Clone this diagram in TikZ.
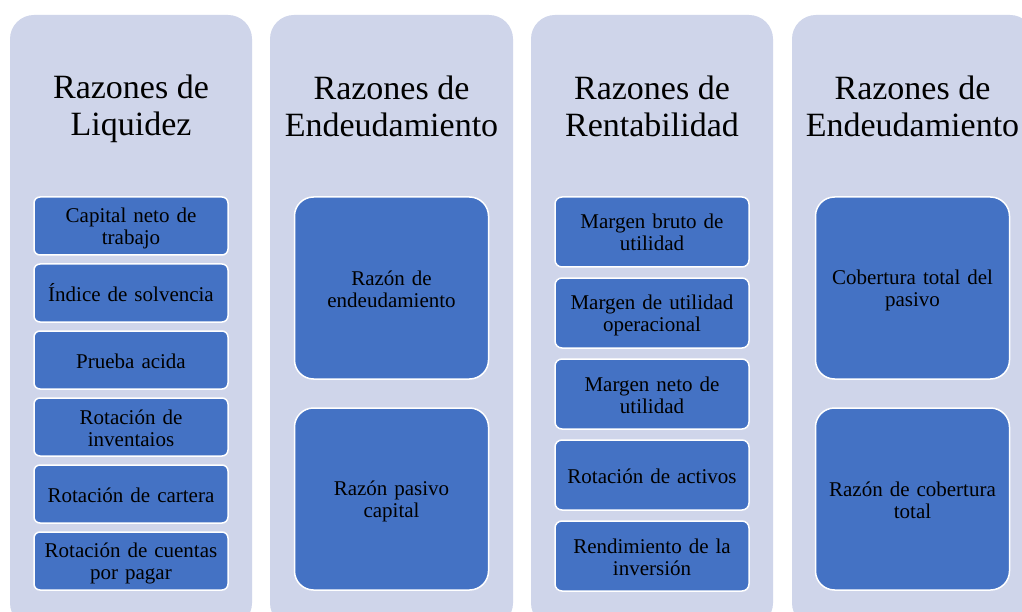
\documentclass[tikz,border=0pt]{standalone}
\usepackage{fontspec}
\setmainfont{Liberation Serif}
\definecolor{panelc}{HTML}{CFD5EA}
\definecolor{boxc}{HTML}{4472C4}
\newcommand\bxtop{\rule{0pt}{19.5pt}}
\newcommand\bxbot{\rule[-3.5pt]{0pt}{3.5pt}}
\newcommand\tttop{\rule{0pt}{32pt}}
\newcommand\ttbot{\rule[-4pt]{0pt}{4pt}}
\tikzset{
  panel/.style={fill=panelc, draw=none, rounded corners=24pt},
  itembox/.style={fill=boxc, draw=white, line width=1.5pt, align=center,
    font=\fontsize{21}{22}\selectfont, inner sep=0pt, minimum width=194pt, text width=190pt},
  smallbox/.style={itembox, minimum height=58pt, rounded corners=6pt},
  midbox/.style={itembox, minimum height=70pt, rounded corners=7pt},
  bigbox/.style={itembox, minimum height=182pt, rounded corners=19pt},
  paneltitle/.style={align=center, font=\fontsize{34}{37}\selectfont, inner sep=0pt}
}
\begin{document}
\begin{tikzpicture}[x=1pt,y=-1pt]
\useasboundingbox (0,0) rectangle (1022,612);
\clip (0,0) rectangle (1022,612);
\fill[white] (0,0) rectangle (1022,612);
% panels
\path[panel] (10,15) rectangle (252,627);
\path[panel] (270,15) rectangle (513,627);
\path[panel] (531,15) rectangle (773,627);
\path[panel] (792,15) rectangle (1034,627);
% titles
\node[paneltitle] (t1) at (131,104.5) {\tttop Razones de\\Liquidez\ttbot};
\node[paneltitle] (t2) at (391.5,104.5) {\tttop Razones de\\Endeudamiento\ttbot};
\node[paneltitle] (t3) at (652,104.5) {\tttop Razones de\\Rentabilidad\ttbot};
\node[paneltitle] (t4) at (912.5,104.5) {\tttop Razones de\\Endeudamiento\ttbot};
% column 1
\node[smallbox] (a1) at (131,226) {\bxtop Capital neto de\\trabajo\bxbot};
\node[smallbox] (a2) at (131,293) {\bxtop Índice de solvencia\bxbot};
\node[smallbox] (a3) at (131,360) {\bxtop Prueba acida\bxbot};
\node[smallbox] (a4) at (131,427) {\bxtop Rotación de\\inventaios\bxbot};
\node[smallbox] (a5) at (131,494) {\bxtop Rotación de cartera\bxbot};
\node[smallbox] (a6) at (131,561) {\bxtop Rotación de cuentas\\por pagar\bxbot};
% column 2
\node[bigbox] (b1) at (391.5,288) {\bxtop Razón de\\endeudamiento\bxbot};
\node[bigbox] (b2) at (391.5,499) {\bxtop Razón pasivo\\capital\bxbot};
% column 3
\node[midbox] (c1) at (652,232) {\bxtop Margen bruto de\\utilidad\bxbot};
\node[midbox] (c2) at (652,313) {\bxtop Margen de utilidad\\operacional\bxbot};
\node[midbox] (c3) at (652,394) {\bxtop Margen neto de\\utilidad\bxbot};
\node[midbox] (c4) at (652,475) {\bxtop Rotación de activos\bxbot};
\node[midbox] (c5) at (652,556) {\bxtop Rendimiento de la\\inversión\bxbot};
% column 4
\node[bigbox] (d1) at (912.5,288) {\bxtop Cobertura total del\\pasivo\bxbot};
\node[bigbox] (d2) at (912.5,499) {\bxtop Razón de cobertura\\total\bxbot};
\end{tikzpicture}
\end{document}
